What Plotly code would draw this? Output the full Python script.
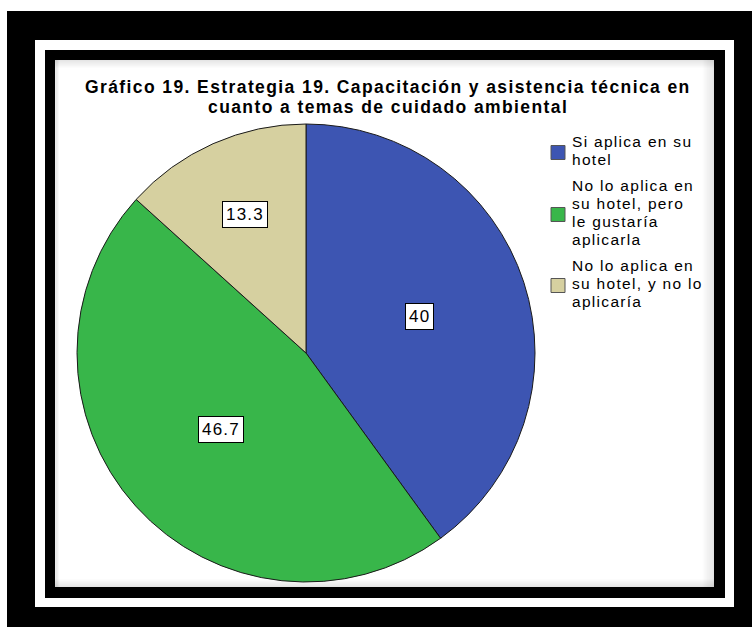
import math
import plotly.graph_objects as go

# Data
categories = [
    "Si aplica en su<br>hotel",
    "No lo aplica en<br>su hotel, pero<br>le gustaría<br>aplicarla",
    "No lo aplica en<br>su hotel, y no lo<br>aplicaría",
]
values = [40.0, 46.7, 13.3]
value_labels = ["40", "46.7", "13.3"]
colors = ["#3d55b2", "#38b64a", "#d6d0a0"]
title_lines = [
    "Gráfico 19. Estrategia 19. Capacitación y asistencia técnica en",
    "cuanto a temas de cuidado ambiental",
]

W, H = 752, 627
FONT = "Arial, 'Liberation Sans', sans-serif"


def px_x(x):
    return x / W


def px_y(y):
    return 1 - y / H


def rect(x0, y0, x1, y1, color, opacity=1.0, line=None, layer="below"):
    return dict(type="rect", xref="paper", yref="paper",
                x0=px_x(x0), x1=px_x(x1), y0=px_y(y1), y1=px_y(y0),
                fillcolor=color, line=line or dict(width=0), opacity=opacity,
                layer=layer)


def text_at(x, y, text, size, xanchor="center", bold=False, spacing=0.0, **kw):
    if spacing:
        text = f'<span style="letter-spacing:{spacing}px">{text}</span>'
    if bold:
        text = f"<b>{text}</b>"
    return dict(x=px_x(x), y=px_y(y), xref="paper", yref="paper",
                text=text, showarrow=False,
                xanchor=xanchor, yanchor="middle",
                font=dict(family=FONT, size=size, color="black"), **kw)


# Pie geometry (pixels)
CX, CY, R = 306, 353, 229

fig = go.Figure()
fig.add_trace(go.Pie(
    labels=[c.replace("<br>", " ") for c in categories],
    values=values,
    sort=False,
    direction="clockwise",
    rotation=0,
    textinfo="none",
    hoverinfo="label+value",
    showlegend=False,
    marker=dict(colors=colors, line=dict(color="#1a1a1a", width=1)),
    domain=dict(x=[px_x(CX - R), px_x(CX + R)], y=[px_y(CY + R), px_y(CY - R)]),
))

# Frame: outer black border, white gap, inner black border, chart panel
shapes = [
    rect(7, 11, 752, 627, "black"),
    rect(35, 40, 734, 607, "white"),
    rect(45, 50, 725, 598, "black"),
    rect(55, 60, 714, 587, "white"),
]
# soft inner shadow along the panel edges
for i in range(8):
    op = 0.10 * (1 - i / 8)
    shapes.append(rect(55, 60 + i, 714, 61 + i, "black", op))
    shapes.append(rect(713 - i * 1.5, 60, 714.5 - i * 1.5, 587, "black", op))
    shapes.append(rect(55, 586 - i, 714, 587 - i, "black", op))
    shapes.append(rect(55 + i * 0.5, 60, 56 + i * 0.5, 587, "black", op * 0.6))

annotations = []

# Title, one annotation per line for tight line spacing
for line, yc in zip(title_lines, [87, 107]):
    annotations.append(text_at(388, yc, line, 17.5, bold=True, spacing=1.4))

# Value labels placed along each slice's bisector
label_radius = [0.52, 0.50, 0.66]
total = sum(values)
start = 0.0
for v, lab, rf in zip(values, value_labels, label_radius):
    mid = (start + v / 2) / total * 2 * math.pi
    start += v
    x = CX + rf * R * math.sin(mid)
    y = CY - rf * R * math.cos(mid)
    annotations.append(text_at(
        x, y, lab, 17, spacing=1.2,
        bgcolor="white", bordercolor="black", borderwidth=1, borderpad=3,
    ))

# Legend: colour swatch plus wrapped category text
LINE_H, ITEM_GAP = 18, 8
baseline = 147
for cat, col in zip(categories, colors):
    lines = cat.split("<br>")
    first_top = baseline - 11
    for ln in lines:
        annotations.append(text_at(570, baseline - 5.5, ln, 15.5,
                                   xanchor="left", spacing=1.3))
        baseline += LINE_H
    last_base = baseline - LINE_H
    sc = (first_top + last_base) / 2 + 2
    shapes.append(rect(551, sc - 7, 565, sc + 7, col,
                       line=dict(color="#555555", width=1), layer="above"))
    baseline += ITEM_GAP

fig.update_layout(
    width=W, height=H,
    margin=dict(l=0, r=0, t=0, b=0),
    paper_bgcolor="white",
    plot_bgcolor="white",
    shapes=shapes,
    annotations=annotations,
    showlegend=False,
)

fig.write_html("out.html")
